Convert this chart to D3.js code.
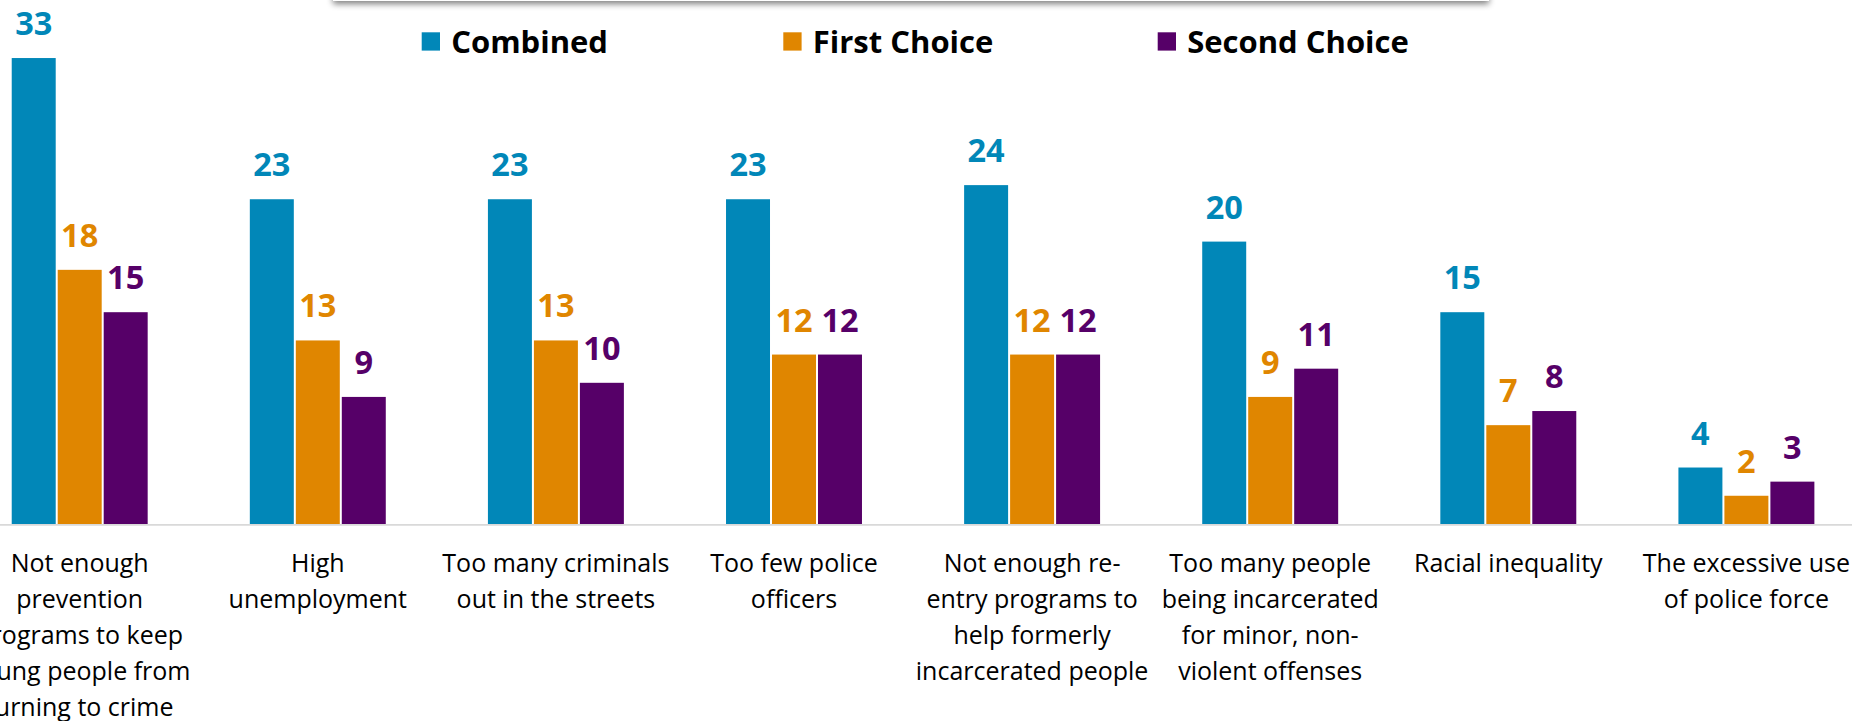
<!DOCTYPE html>
<html>
<head>
<meta charset="utf-8">
<script src="https://cdn.jsdelivr.net/npm/d3@7"></script>
<style>
  html, body { margin: 0; padding: 0; background: #fff; overflow: hidden; }
  svg { display: block; }
</style>
</head>
<body>
<svg id="chart" width="1852" height="721"></svg>
<script>
// Survey responses: percentage naming each cause, by choice rank
const categories = [
  "Not enough prevention programs to keep young people from turning to crime",
  "High unemployment",
  "Too many criminals out in the streets",
  "Too few police officers",
  "Not enough re-entry programs to help formerly incarcerated people",
  "Too many people being incarcerated for minor, non-violent offenses",
  "Racial inequality",
  "The excessive use of police force"
];
const categoryLines = [
  ["Not enough", "prevention", "programs to keep", "young people from", "turning to crime"],
  ["High", "unemployment"],
  ["Too many criminals", "out in the streets"],
  ["Too few police", "officers"],
  ["Not enough re-", "entry programs to", "help formerly", "incarcerated people"],
  ["Too many people", "being incarcerated", "for minor, non-", "violent offenses"],
  ["Racial inequality"],
  ["The excessive use", "of police force"]
];
const seriesNames = ["Combined", "First Choice", "Second Choice"];
const combined = [33, 23, 23, 23, 24, 20, 15, 4];
const firstChoice = [18, 13, 13, 12, 12, 9, 7, 2];
const secondChoice = [15, 9, 10, 12, 12, 11, 8, 3];
const seriesColors = ["#0187b8", "#e08600", "#560068"];

const seriesValues = [combined, firstChoice, secondChoice];
const rows = categories.map((c, i) => ({
  category: c,
  lines: categoryLines[i],
  values: seriesNames.map((s, k) => ({ series: s, value: seriesValues[k][i] }))
}));

const svg = d3.select("#chart");
const baseY = 524;

// Outer band per category, inner band per series
const x0 = d3.scaleBand()
  .domain(categories)
  .range([-39.35, 1865.45])
  .paddingInner(0.429)
  .paddingOuter(0.2145);

const x1 = d3.scaleBand()
  .domain(seriesNames)
  .range([0, x0.bandwidth()])
  .paddingInner(0.0435)
  .paddingOuter(0);

const y = d3.scaleLinear()
  .domain([0, 35])
  .range([baseY, baseY - 35 * 14.12]);

const color = d3.scaleOrdinal().domain(seriesNames).range(seriesColors);

// Panel with drop shadow along the top edge
const defs = svg.append("defs");
const shadow = defs.append("filter").attr("id", "panelShadow")
  .attr("x", "-5%").attr("y", "-50%").attr("width", "110%").attr("height", "200%");
shadow.append("feGaussianBlur").attr("in", "SourceAlpha").attr("stdDeviation", 3).attr("result", "blur");
shadow.append("feOffset").attr("in", "blur").attr("dy", 3).attr("result", "off");
shadow.append("feComponentTransfer").attr("in", "off").attr("result", "shade")
  .append("feFuncA").attr("type", "linear").attr("slope", 0.5);
const merge = shadow.append("feMerge");
merge.append("feMergeNode").attr("in", "shade");
merge.append("feMergeNode").attr("in", "SourceGraphic");

svg.append("rect")
  .attr("x", 333).attr("y", -60)
  .attr("width", 1156).attr("height", 61)
  .attr("fill", "#ffffff")
  .attr("filter", "url(#panelShadow)");

// Bars
const groups = svg.append("g").selectAll("g.group")
  .data(rows)
  .join("g")
  .attr("class", "group")
  .attr("transform", d => `translate(${x0(d.category)},0)`);

groups.selectAll("rect")
  .data(d => d.values)
  .join("rect")
  .attr("x", d => x1(d.series))
  .attr("width", x1.bandwidth())
  .attr("y", d => y(d.value))
  .attr("height", d => y(0) - y(d.value))
  .attr("fill", d => color(d.series));

// Value labels
groups.selectAll("text.value")
  .data(d => d.values)
  .join("text")
  .attr("class", "value")
  .attr("x", d => x1(d.series) + x1.bandwidth() / 2)
  .attr("y", d => y(d.value) - 23)
  .attr("text-anchor", "middle")
  .attr("font-family", "'Open Sans', sans-serif")
  .attr("font-weight", 700)
  .attr("font-size", 32.5)
  .attr("fill", d => color(d.series))
  .text(d => d.value);

// Category axis with wrapped labels
const axis = svg.append("g")
  .attr("transform", `translate(0,${baseY})`)
  .call(d3.axisBottom(x0).tickSize(0).tickPadding(0));

axis.select(".domain")
  .attr("d", "M-40,0.8H1900")
  .attr("stroke", "#d9d9d9")
  .attr("stroke-width", 1.8);

axis.selectAll(".tick text")
  .attr("y", 0)
  .attr("dy", null)
  .attr("font-family", "'Open Sans', sans-serif")
  .attr("font-size", 25)
  .attr("fill", "#000")
  .each(function (d, i) {
    const t = d3.select(this);
    t.text(null);
    rows[i].lines.forEach((line, j) => {
      t.append("tspan")
        .attr("x", 0)
        .attr("y", 47.7 + j * 36)
        .text(line);
    });
  });

// Legend
const legendX = [421.7, 783.3, 1157.7];
const legend = svg.append("g").selectAll("g")
  .data(seriesNames)
  .join("g")
  .attr("transform", (d, i) => `translate(${legendX[i]},0)`);

legend.append("rect")
  .attr("x", 0).attr("y", 32.3)
  .attr("width", 18.3).attr("height", 18.3)
  .attr("fill", d => color(d));

legend.append("text")
  .attr("x", 29.5).attr("y", 52.7)
  .attr("font-family", "'Open Sans', sans-serif")
  .attr("font-weight", 700)
  .attr("font-size", 31)
  .attr("fill", "#000")
  .text(d => d);
</script>
</body>
</html>
